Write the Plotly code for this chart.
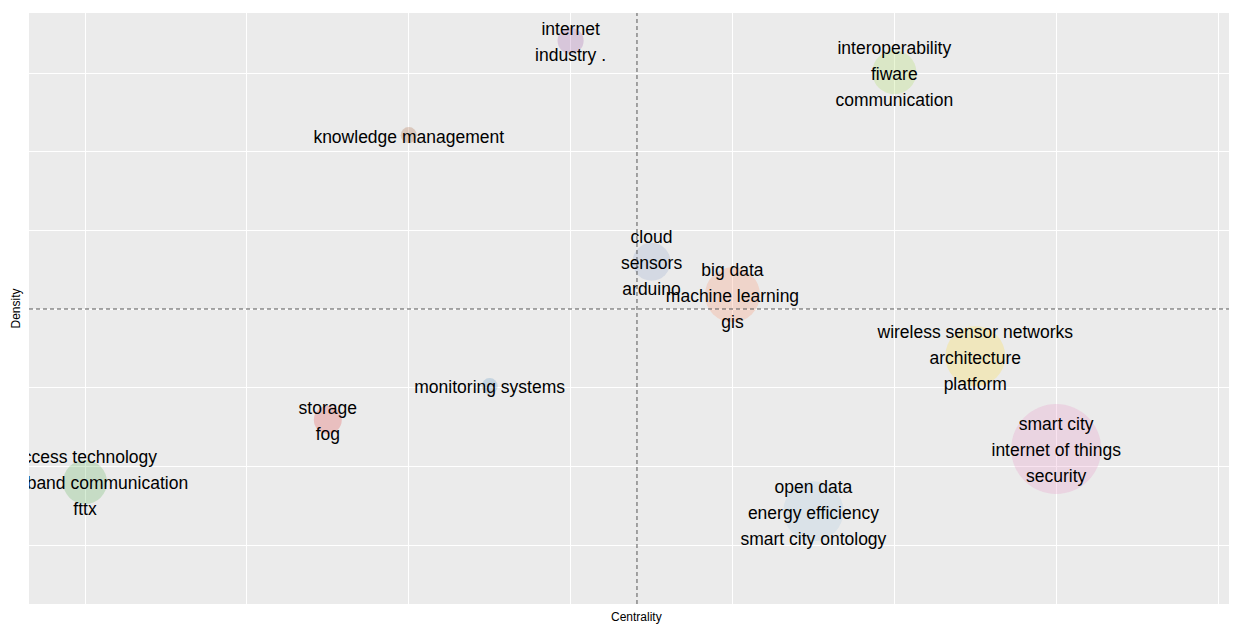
import plotly.graph_objects as go

# Thematic map: one bubble per cluster, labelled by its top keywords
cluster_words = [
    ["access technology", "broadband communication", "fttx"],
    ["storage", "fog"],
    ["monitoring systems"],
    ["knowledge management"],
    ["internet", "industry ."],
    ["cloud", "sensors", "arduino"],
    ["big data", "machine learning", "gis"],
    ["interoperability", "fiware", "communication"],
    ["wireless sensor networks", "architecture", "platform"],
    ["smart city", "internet of things", "security"],
    ["open data", "energy efficiency", "smart city ontology"],
]
centrality = [0.0, 1.5, 2.5, 2.0, 3.0, 3.5, 4.0, 5.0, 5.5, 6.0, 4.5]
density = [-2.20, -1.41, -0.98, 2.21, 3.41, 0.60, 0.18, 3.01, -0.60, -1.78, -2.57]
occurrences = [97, 39, 13, 13, 34, 72, 151, 97, 180, 405, 180]
cluster_colors = [
    "rgba(77,175,74,0.33)", "rgba(228,26,28,0.3)", "rgba(55,126,184,0.3)",
    "rgba(166,86,40,0.35)", "rgba(152,78,163,0.33)", "rgba(141,160,203,0.35)",
    "rgba(252,141,98,0.35)", "rgba(166,216,84,0.35)", "rgba(255,217,47,0.35)",
    "rgba(231,138,195,0.35)", "rgba(166,196,222,0.35)",
]
centrality_mid = 3.41
density_mid = 0.0

X_RANGE = [-0.346, 7.117]
Y_RANGE = [-3.75, 3.763]
# the page body adds 8px around the figure
W, H = 1229, 616
MARGIN = dict(l=21, r=0, t=5, b=20)
LINE_PX = 26   # gap between stacked keyword lines
TEXT_DROP = 3  # labels sit slightly below bubble centre

fig = go.Figure()

# bubbles
fig.add_trace(go.Scatter(
    x=centrality, y=density, mode="markers",
    marker=dict(size=occurrences, sizemode="area", sizeref=0.1,
                color=cluster_colors, line=dict(width=0)),
    hoverinfo="skip", cliponaxis=True
))

# keyword labels, stacked around each bubble centre
px_per_unit = (H - MARGIN["t"] - MARGIN["b"]) / (Y_RANGE[1] - Y_RANGE[0])
lab_x, lab_y, lab_txt = [], [], []
for words, cx, cy in zip(cluster_words, centrality, density):
    n = len(words)
    for k, w in enumerate(words):
        lab_x.append(cx)
        lab_y.append(cy - ((k - (n - 1) / 2) * LINE_PX + TEXT_DROP) / px_per_unit)
        lab_txt.append(w)

fig.add_trace(go.Scatter(
    x=lab_x, y=lab_y, mode="text", text=lab_txt,
    textposition="middle center",
    textfont=dict(family="Liberation Sans, Arial", size=17.5, color="black"),
    hoverinfo="skip", cliponaxis=True
))

# reference lines
fig.add_shape(type="line", xref="x", yref="paper", x0=centrality_mid, x1=centrality_mid,
              y0=0, y1=1, line=dict(color="#555555", width=1, dash="4px,3px"))
fig.add_shape(type="line", xref="paper", yref="y", x0=0, x1=1,
              y0=density_mid, y1=density_mid, line=dict(color="#555555", width=1, dash="4px,3px"))

fig.add_annotation(text="Centrality", xref="paper", yref="paper", x=0.503, y=0,
                   xanchor="center", yanchor="middle", yshift=-13, showarrow=False,
                   font=dict(family="Liberation Sans, Arial", size=12, color="black"))
fig.add_annotation(text="Density", xref="paper", yref="paper", x=0, y=0.5,
                   xanchor="center", yanchor="middle", xshift=-14, textangle=-90,
                   showarrow=False,
                   font=dict(family="Liberation Sans, Arial", size=12, color="black"))

fig.update_layout(
    width=W, height=H, margin=MARGIN,
    paper_bgcolor="white", plot_bgcolor="#EBEBEB",
    showlegend=False,
    xaxis=dict(range=X_RANGE, dtick=1, tick0=0, showgrid=True, gridcolor="white",
               gridwidth=1.2, zeroline=False, showticklabels=False, ticks=""),
    yaxis=dict(range=Y_RANGE, dtick=1, tick0=0, showgrid=True, gridcolor="white",
               gridwidth=1.2, zeroline=False, showticklabels=False, ticks=""),
)

fig.write_html("out.html")
